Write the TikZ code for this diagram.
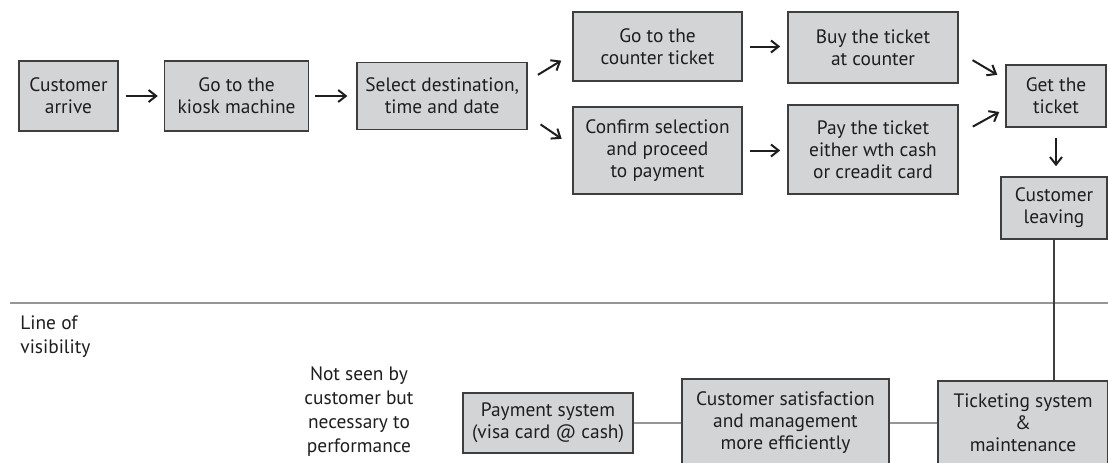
\documentclass[tikz,border=0pt]{standalone}
\usepackage{fontspec}
\setmainfont{PT Sans}
\usetikzlibrary{arrows.meta,calc,positioning}
\definecolor{boxgray}{RGB}{211,212,214}
\definecolor{edgegray}{RGB}{62,62,62}
\definecolor{linegray}{RGB}{150,150,150}
\definecolor{inkgray}{RGB}{30,30,30}
\tikzset{
  stepbox/.style={draw=edgegray, line width=0.8pt, fill=boxgray, align=center,
    inner sep=0pt, text=inkgray, font=\fontsize{9.7}{11}\selectfont},
  flow/.style={draw=inkgray, line width=1pt, -{Straight Barb[length=3.8pt,width=6pt]}},
  plainlabel/.style={text=inkgray, inner sep=0pt, font=\fontsize{9.7}{12}\selectfont},
}

\begin{document}
\begin{tikzpicture}[x=0.5pt,y=-0.5pt]
  \useasboundingbox (0,0) rectangle (1108,462);
  %first steps of the customer
  \node[stepbox, minimum width=49.5pt, minimum height=35pt] (arrive) at (68.5,96) {Customer\\arrive};
  \node[stepbox, minimum width=72pt, minimum height=35pt, right=22.5pt of arrive] (kiosk) {Go to the\\kiosk machine};
  \node[stepbox, minimum width=85pt, minimum height=33.5pt, right=23.5pt of kiosk] (select) {Select destination,\\time and date};
  %the two ways to buy
  \node[stepbox, minimum width=84.5pt, minimum height=34.5pt] (counter) at (657.5,46.5) {Go to the\\counter ticket};
  \node[stepbox, minimum width=85pt, minimum height=35.5pt] (buy) at (873,47.5) {Buy the ticket\\at counter};
  \node[stepbox, minimum width=84.5pt, minimum height=43.5pt] (confirm) at (657.5,150.5) {Confirm selection\\and proceed\\to payment};
  \node[stepbox, minimum width=85pt, minimum height=44.5pt] (pay) at (873,149.5) {Pay the ticket\\either wth cash\\or creadit card};
  %end of the visit
  \node[stepbox, minimum width=50pt, minimum height=31pt] (get) at (1056,96) {Get the\\ticket};
  \node[stepbox, minimum width=53pt, minimum height=31pt] (leaving) at (1054,208) {Customer\\leaving};
  %behind the line of visibility
  \node[stepbox, minimum width=85pt, minimum height=30pt] (payment) at (548,423) {Payment system\\(visa card @ cash)};
  \node[stepbox, minimum width=103.5pt, minimum height=44pt] (satisf) at (785.5,423) {Customer satisfaction\\and management\\more efficiently};
  \node[stepbox, minimum width=85pt, minimum height=42pt] (ticket) at (1023,423) {Ticketing system\\\&\\maintenance};
  \node[plainlabel, anchor=west, align=left] (linelabel) at (20,337) {Line of\\visibility};
  \node[plainlabel, align=center] (notseen) at (359,412) {Not seen by\\customer but\\necessary to\\performance};
  %line of visibility
  \coordinate (vis west) at (10,303);
  \coordinate (vis east) at (1108,303);
  \draw[linegray, line width=1.1pt] (vis west) -- (vis east);
  %arrows
  \draw[flow, shorten <=3.5pt, shorten >=3pt] (arrive) -- (kiosk);
  \draw[flow, shorten <=3pt, shorten >=4.5pt] (kiosk.east) -- (kiosk.east -| select.west);
  \draw[flow, shorten <=5.8pt, shorten >=6.4pt] (select.10) -- (counter.185);
  \draw[flow, shorten <=7.6pt, shorten >=6.4pt] (select.347) -- (confirm.177);
  \draw[flow, shorten <=3.5pt, shorten >=3.5pt] (counter.east) -- (counter.east -| buy.west);
  \draw[flow, shorten <=3.5pt, shorten >=3.5pt] (confirm.east) -- (confirm.east -| pay.west);
  \draw[flow, shorten <=8pt, shorten >=4.6pt] (buy.-3) -- (get.162);
  \draw[flow, shorten <=8pt, shorten >=3.4pt] (pay.10) -- (get.194);
  \draw[flow, shorten <=5pt, shorten >=5pt] (get.south) -- (get.south |- leaving.north);
  %plain links
  \draw[edgegray, line width=0.7pt] (leaving.south) -- (leaving.south |- ticket.north);
  \draw[linegray, line width=1.1pt] (payment.east) -- (satisf.west);
  \draw[linegray, line width=1.1pt] (satisf.east) -- (ticket.west);
\end{tikzpicture}
\end{document}
